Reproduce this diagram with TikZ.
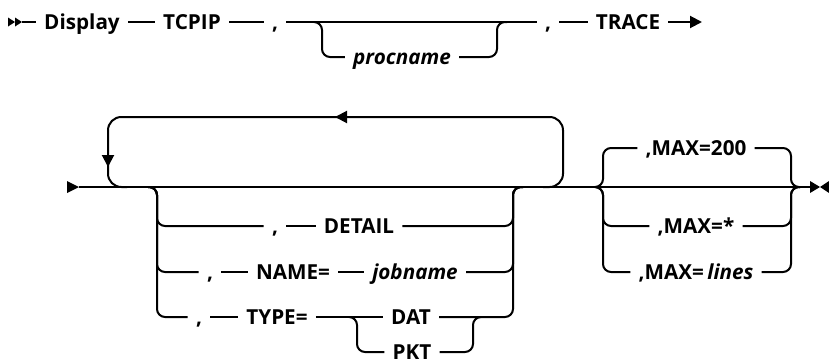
\documentclass[tikz,border=0pt]{standalone}
\usepackage{fontspec}
\setmainfont{Open Sans}
\usetikzlibrary{arrows.meta}

\newcommand{\railfont}{\fontsize{15.5}{18}\selectfont}

\tikzset{
  rail/.style={line width=1.5pt, rounded corners=6pt},
  loopline/.style={rail, rounded corners=10pt},
  kw/.style={font=\railfont\bfseries, text height=11pt, text depth=0pt, inner xsep=6pt, inner ysep=0pt},
  var/.style={kw, font=\railfont\bfseries\itshape},
  tip/.style={-{Triangle[length=9pt,width=9pt]}}
}

\begin{document}
\begin{tikzpicture}[x=0.75pt,y=-0.75pt]
        \useasboundingbox (0,0) rectangle (829,364);

        % First line: Display TCPIP , [procname] , TRACE
        \coordinate (t0) at (22,22);
        \coordinate (t1) at (702,22);
        \node[kw] (display) at (82,22) {Display};
        \node[kw] (tcpip) at (192,22) {TCPIP};
        \node[kw] (c1) at (275,22) {,};
        \node[var] (procname) at (402,57) {procname};
        \node[kw] (c2) at (548,22) {,};
        \node[kw] (trace) at (628,22) {TRACE};

        \fill (8,17.5) -- (15,22) -- (8,26.5) -- cycle;
        \fill (15,17.5) -- (22,22) -- (15,26.5) -- cycle;
        \draw[rail] (t0) -- (display);
        \draw[rail] (display) -- (tcpip);
        \draw[rail] (tcpip) -- (c1);
        \draw[rail] (c1) -- (c2);
        \draw[rail] (c2) -- (trace);
        \draw[rail, tip] (trace) -- (t1);

        % Optional procname
        \coordinate (p0) at (314,22);
        \coordinate (p1) at (507,22);
        \draw[rail] (p0) -- ++(8,0) |- (procname);
        \draw[rail] (p1) -- ++(-10,0) |- (procname);

        % Second line: main rail
        \coordinate (b0) at (79,187);
        \coordinate (b1) at (810,187);
        \fill (67,181) -- (79,187) -- (67,193) -- cycle;
        \draw[rail] (b0) -- (b1);
        \fill (810,181) -- (820,187) -- (810,193) -- cycle;
        \fill (829,181) -- (820,187) -- (829,193) -- cycle;

        % Repeat loop
        \coordinate (lp0) at (127,187);
        \coordinate (lp1) at (543,187);
        \draw[loopline, tip] (lp1) -- ++(20,0) |- (335,117);
        \draw[loopline, tip] (340,117) -| (108,167);
        \draw[loopline] (108,160) |- (lp0);

        % Options (DETAIL, NAME=, TYPE=)
        \coordinate (g1a) at (148,187);
        \coordinate (g1b) at (523,187);
        \node[kw] (c3) at (275,226) {,};
        \node[kw] (detail) at (359,226) {DETAIL};
        \node[kw] (c4) at (210,272) {,};
        \node[kw] (name) at (293,272) {NAME=};
        \node[var] (jobname) at (415,272) {jobname};
        \node[kw] (c5) at (199,317) {,};
        \node[kw] (type) at (277,317) {TYPE=};
        \node[kw] (dat) at (411,317) {DAT};
        \node[kw] (pkt) at (412,352) {PKT};

        \draw[rail] (g1a) -- ++(9,0) |- (c3);
        \draw[rail] (c3) -- (detail);
        \draw[rail] (g1b) -- ++(-10,0) |- (detail);
        \draw[rail] (g1a) -- ++(9,0) |- (c4);
        \draw[rail] (c4) -- (name);
        \draw[rail] (name) -- (jobname);
        \draw[rail] (g1b) -- ++(-10,0) |- (jobname);
        \draw[rail] (g1a) -- ++(9,0) |- (c5);
        \draw[rail] (c5) -- (type);
        \draw[rail] (type) -- (dat);
        \draw[rail] (g1b) -- ++(-10,0) |- (dat);

        % DAT or PKT
        \coordinate (d0) at (349,317);
        \coordinate (d1) at (481,317);
        \draw[rail] (d0) -- ++(8,0) |- (pkt);
        \draw[rail] (d1) -- ++(-8,0) |- (pkt);

        % MAX choice
        \coordinate (g2a) at (595,187);
        \coordinate (g2b) at (800,187);
        \node[kw] (max200) at (696,148) {,MAX=200};
        \node[kw] (maxstar) at (696,226) {,MAX=*};
        \node[kw] (maxlines) at (696,272) {,MAX=\,\textit{lines}};

        \draw[rail] (g2a) -- ++(8,0) |- (max200);
        \draw[rail] (g2b) -- ++(-9,0) |- (max200);
        \draw[rail] (g2a) -- ++(8,0) |- (maxstar);
        \draw[rail] (g2b) -- ++(-9,0) |- (maxstar);
        \draw[rail] (g2a) -- ++(8,0) |- (maxlines);
        \draw[rail] (g2b) -- ++(-9,0) |- (maxlines);
\end{tikzpicture}
\end{document}
